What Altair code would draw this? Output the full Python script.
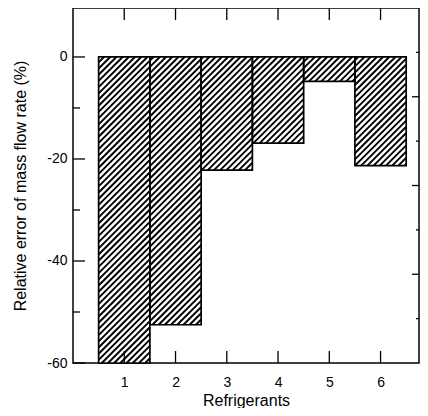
import altair as alt
import pandas as pd

# ---- data ----
refrigerants = [1, 2, 3, 4, 5, 6]
rel_error = [-60.0, -52.5, -22.2, -16.9, -4.8, -21.3]
y_major = [0, -20, -40, -60]
y_minor = [-10, -30, -50]
x_ticks = [1, 2, 3, 4, 5, 6]
right_short = [1, 3, 5, 7]
right_long = [2, 4, 6]

# ---- layout / style ----
W, H = 346, 355
XDOM = [0, 6.75]
YDOM = [-60, 9.6]
sx = W / (XDOM[1] - XDOM[0])
sy = H / (YDOM[1] - YDOM[0])
r = sx / sy            # data slope giving 45 degree hatch lines
dc = 6.2 / sx          # hatch spacing (about 6 px horizontally)

FONT = "Liberation Sans"
MINUS = "\u2212"

bars = pd.DataFrame({"x": refrigerants, "v": rel_error})
xscale = alt.Scale(domain=XDOM, nice=False, zero=False)
yscale = alt.Scale(domain=YDOM, nice=False, zero=False)

xaxis = alt.Axis(values=x_ticks, title="Refrigerants", ticks=False, tickSize=0,
                 domain=False, grid=False, labelPadding=12, labelFontSize=14,
                 titleFontSize=16, titleFontWeight="normal", titlePadding=3,
                 labelFlush=False, labelColor="black", titleColor="black",
                 labelFont=FONT, titleFont=FONT)
yaxis = alt.Axis(values=y_major, title="Relative error of mass flow rate (%)",
                 ticks=False, tickSize=0, domain=False, grid=False, labelPadding=6,
                 labelFontSize=14, titleFontSize=16, titleFontWeight="normal",
                 titlePadding=18, labelColor="black", titleColor="black",
                 labelFont=FONT, titleFont=FONT,
                 labelExpr=f"replace(datum.label, '{MINUS}', '-')")

base = alt.Chart(bars).transform_calculate(
    xl="datum.x - 0.5", xr="datum.x + 0.5", top="0")

fill_rect = base.mark_rect(fill="white").encode(
    x=alt.X("xl:Q", scale=xscale, axis=xaxis), x2="xr",
    y=alt.Y("v:Q", scale=yscale, axis=yaxis), y2="top")

hatch = alt.Chart(bars).transform_calculate(
    ks=f"sequence(ceil((datum.x - 0.5)/{dc}), floor((datum.x + 0.5 - datum.v/{r})/{dc}) + 1)"
).transform_flatten(["ks"]).transform_calculate(
    c=f"datum.ks*{dc}"
).transform_calculate(
    xa=f"max(datum.x - 0.5, datum.c + datum.v/{r})"
).transform_calculate(
    xb="min(datum.x + 0.5, datum.c)"
).transform_filter("datum.xa < datum.xb").transform_calculate(
    ya=f"{r}*(datum.xa - datum.c)"
).transform_calculate(
    yb=f"{r}*(datum.xb - datum.c)"
).mark_rule(stroke="black", strokeWidth=1.9).encode(
    x=alt.X("xa:Q", scale=xscale, axis=xaxis), x2="xb",
    y=alt.Y("ya:Q", scale=yscale, axis=None), y2="yb")

outline = base.mark_rect(fillOpacity=0, stroke="black", strokeWidth=1.7).encode(
    x=alt.X("xl:Q", scale=xscale, axis=xaxis), x2="xr",
    y=alt.Y("v:Q", scale=yscale, axis=None), y2="top")

left_major = alt.Chart(pd.DataFrame({"v": y_major})).mark_rule(
    color="black", strokeWidth=1.3).encode(
    y=alt.Y("v:Q", scale=yscale, axis=None), x=alt.value(0), x2=alt.value(12))
left_minor = alt.Chart(pd.DataFrame({"v": y_minor})).mark_rule(
    color="black", strokeWidth=1.3).encode(
    y=alt.Y("v:Q", scale=yscale, axis=None), x=alt.value(0), x2=alt.value(7))

top_ticks = alt.Chart(pd.DataFrame({"x": x_ticks})).mark_rule(
    color="black", strokeWidth=1.3).encode(
    x=alt.X("x:Q", scale=xscale, axis=xaxis), y=alt.value(0), y2=alt.value(12))
bottom_ticks = alt.Chart(pd.DataFrame({"x": x_ticks})).mark_rule(
    color="black", strokeWidth=1.3).encode(
    x=alt.X("x:Q", scale=xscale, axis=xaxis), y=alt.value(H), y2=alt.value(H - 12))

rscale = alt.Scale(domain=[0, 8], nice=False, zero=False)
right_s = alt.Chart(pd.DataFrame({"k": right_short})).mark_rule(
    color="black", strokeWidth=1.3).encode(
    y=alt.Y("k:Q", scale=rscale, axis=None), x=alt.value(W), x2=alt.value(W - 3))
right_l = alt.Chart(pd.DataFrame({"k": right_long})).mark_rule(
    color="black", strokeWidth=1.3).encode(
    y=alt.Y("k:Q", scale=rscale, axis=None), x=alt.value(W), x2=alt.value(W - 7))

chart = alt.layer(
    fill_rect, hatch, outline, left_major, left_minor, top_ticks, bottom_ticks,
    right_s, right_l
).resolve_scale(y="independent").properties(
    width=W, height=H, autosize="none",
    padding={"left": 65, "top": 0, "right": 1, "bottom": 45},
    background="white"
).configure(
    font=FONT, view=alt.ViewConfig(stroke="black", strokeWidth=1.5)
)

chart.save("out.html", embed_options={"renderer": "svg", "actions": False})
